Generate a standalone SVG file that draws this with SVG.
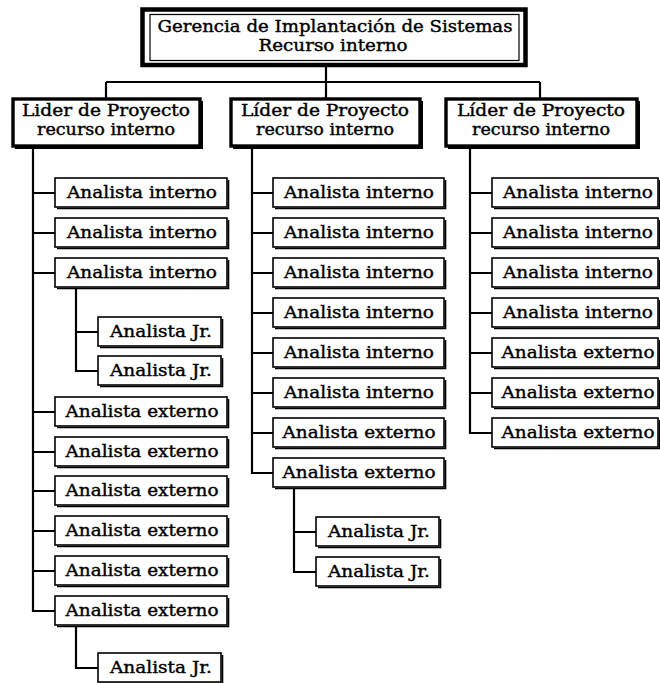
<svg xmlns="http://www.w3.org/2000/svg" width="660" height="683" viewBox="0 0 660 683">
  <style>
    .bg { fill: #fff; }
    .box { fill: #fff; stroke: #000; stroke-width: 1.6; }
    .shade { fill: none; stroke: #000; stroke-width: 1.6; }
    .lead { fill: #fff; stroke: #000; stroke-width: 3.4; }
    .leadshade { fill: none; stroke: #000; stroke-width: 2; }
    .head { fill: #fff; stroke: #000; stroke-width: 4.5; }
    .headin { fill: none; stroke: #000; stroke-width: 1.2; }
    .wire { fill: none; stroke: #000; stroke-width: 2.2; }
    text { font-family: "DejaVu Serif", "Liberation Serif", serif; font-weight: normal; text-anchor: middle; fill: #000; stroke: #000; stroke-width: 0.4; }
    .t { font-size: 16.5px; }
    .tl { font-size: 16px; }
  </style>
  <rect class="bg" x="0" y="0" width="660" height="683"/>

  <!-- connectors -->
  <g id="connectors">
    <path class="wire" d="M326 66 V98 M106 82 H540 M106 82 V98 M540 82 V98"/>
    <!-- left branch -->
    <path class="wire" d="M33 146 V611 H55 M33 193 H55 M33 233 H55 M33 273 H55 M33 412 H55 M33 452 H55 M33 491 H55 M33 531 H55 M33 571 H55"/>
    <path class="wire" d="M76 288 V371 H98 M76 332 H98"/>
    <path class="wire" d="M76 626 V668 H98"/>
    <!-- middle branch -->
    <path class="wire" d="M252 146 V473 H273 M252 193 H273 M252 233 H273 M252 273 H273 M252 313 H273 M252 353 H273 M252 393 H273 M252 433 H273"/>
    <path class="wire" d="M294 488 V572 H316 M294 532 H316"/>
    <!-- right branch -->
    <path class="wire" d="M470 146 V433 H492 M470 193 H492 M470 233 H492 M470 273 H492 M470 313 H492 M470 353 H492 M470 393 H492"/>
  </g>

  <!-- head -->
  <g id="gerencia">
    <rect class="head" x="142.5" y="9.5" width="383" height="55.5"/>
    <rect class="headin" x="150" y="14.5" width="369" height="46"/>
    <text class="tl" x="335" y="32" textLength="355" lengthAdjust="spacingAndGlyphs">Gerencia de Implantación de Sistemas</text>
    <text class="tl" x="333" y="51" textLength="149" lengthAdjust="spacingAndGlyphs">Recurso interno</text>
  </g>

  <!-- project leaders -->
  <g id="lider1">
    <rect class="lead" x="13" y="99" width="187" height="47"/>
    <path class="leadshade" d="M202 101 V148 H15"/>
    <text class="tl" x="106" y="116" textLength="168" lengthAdjust="spacingAndGlyphs">Lider de Proyecto</text>
    <text class="tl" x="106" y="135" textLength="138" lengthAdjust="spacingAndGlyphs">recurso interno</text>
  </g>
  <g id="lider2">
    <rect class="lead" x="231" y="99" width="189" height="47"/>
    <path class="leadshade" d="M422 101 V148 H233"/>
    <text class="tl" x="325" y="116" textLength="168" lengthAdjust="spacingAndGlyphs">Líder de Proyecto</text>
    <text class="tl" x="325" y="135" textLength="138" lengthAdjust="spacingAndGlyphs">recurso interno</text>
  </g>
  <g id="lider3">
    <rect class="lead" x="446" y="99" width="191" height="47"/>
    <path class="leadshade" d="M639 101 V148 H448"/>
    <text class="tl" x="541" y="116" textLength="168" lengthAdjust="spacingAndGlyphs">Líder de Proyecto</text>
    <text class="tl" x="541" y="135" textLength="138" lengthAdjust="spacingAndGlyphs">recurso interno</text>
  </g>

  <!-- left column -->
  <g id="l1"><rect class="box" x="55" y="178" width="172" height="29"/><path class="shade" d="M228.5 180 V208.5 H57"/><text class="t" x="142" y="198" textLength="150" lengthAdjust="spacingAndGlyphs">Analista interno</text></g>
  <g id="l2"><rect class="box" x="55" y="218" width="172" height="29"/><path class="shade" d="M228.5 220 V248.5 H57"/><text class="t" x="142" y="238" textLength="150" lengthAdjust="spacingAndGlyphs">Analista interno</text></g>
  <g id="l3"><rect class="box" x="55" y="258" width="172" height="29"/><path class="shade" d="M228.5 260 V288.5 H57"/><text class="t" x="142" y="278" textLength="150" lengthAdjust="spacingAndGlyphs">Analista interno</text></g>
  <g id="l3a"><rect class="box" x="98" y="317" width="123" height="29"/><path class="shade" d="M222.5 319 V347.5 H100"/><text class="t" x="161" y="337" textLength="102" lengthAdjust="spacingAndGlyphs">Analista Jr.</text></g>
  <g id="l3b"><rect class="box" x="98" y="356" width="123" height="29"/><path class="shade" d="M222.5 358 V386.5 H100"/><text class="t" x="161" y="376" textLength="102" lengthAdjust="spacingAndGlyphs">Analista Jr.</text></g>
  <g id="l4"><rect class="box" x="55" y="397" width="172" height="29"/><path class="shade" d="M228.5 399 V427.5 H57"/><text class="t" x="142" y="417" textLength="153" lengthAdjust="spacingAndGlyphs">Analista externo</text></g>
  <g id="l5"><rect class="box" x="55" y="437" width="172" height="29"/><path class="shade" d="M228.5 439 V467.5 H57"/><text class="t" x="142" y="457" textLength="153" lengthAdjust="spacingAndGlyphs">Analista externo</text></g>
  <g id="l6"><rect class="box" x="55" y="476" width="172" height="29"/><path class="shade" d="M228.5 478 V506.5 H57"/><text class="t" x="142" y="496" textLength="153" lengthAdjust="spacingAndGlyphs">Analista externo</text></g>
  <g id="l7"><rect class="box" x="55" y="516" width="172" height="29"/><path class="shade" d="M228.5 518 V546.5 H57"/><text class="t" x="142" y="536" textLength="153" lengthAdjust="spacingAndGlyphs">Analista externo</text></g>
  <g id="l8"><rect class="box" x="55" y="556" width="172" height="29"/><path class="shade" d="M228.5 558 V586.5 H57"/><text class="t" x="142" y="576" textLength="153" lengthAdjust="spacingAndGlyphs">Analista externo</text></g>
  <g id="l9"><rect class="box" x="55" y="596" width="172" height="29"/><path class="shade" d="M228.5 598 V626.5 H57"/><text class="t" x="142" y="616" textLength="153" lengthAdjust="spacingAndGlyphs">Analista externo</text></g>
  <g id="l9a"><rect class="box" x="98" y="653" width="123" height="29"/><path class="shade" d="M222.5 655 V683.5 H100"/><text class="t" x="161" y="673" textLength="102" lengthAdjust="spacingAndGlyphs">Analista Jr.</text></g>

  <!-- middle column -->
  <g id="m1"><rect class="box" x="273" y="178" width="171" height="29"/><path class="shade" d="M445.5 180 V208.5 H275"/><text class="t" x="359" y="198" textLength="150" lengthAdjust="spacingAndGlyphs">Analista interno</text></g>
  <g id="m2"><rect class="box" x="273" y="218" width="171" height="29"/><path class="shade" d="M445.5 220 V248.5 H275"/><text class="t" x="359" y="238" textLength="150" lengthAdjust="spacingAndGlyphs">Analista interno</text></g>
  <g id="m3"><rect class="box" x="273" y="258" width="171" height="29"/><path class="shade" d="M445.5 260 V288.5 H275"/><text class="t" x="359" y="278" textLength="150" lengthAdjust="spacingAndGlyphs">Analista interno</text></g>
  <g id="m4"><rect class="box" x="273" y="298" width="171" height="29"/><path class="shade" d="M445.5 300 V328.5 H275"/><text class="t" x="359" y="318" textLength="150" lengthAdjust="spacingAndGlyphs">Analista interno</text></g>
  <g id="m5"><rect class="box" x="273" y="338" width="171" height="29"/><path class="shade" d="M445.5 340 V368.5 H275"/><text class="t" x="359" y="358" textLength="150" lengthAdjust="spacingAndGlyphs">Analista interno</text></g>
  <g id="m6"><rect class="box" x="273" y="378" width="171" height="29"/><path class="shade" d="M445.5 380 V408.5 H275"/><text class="t" x="359" y="398" textLength="150" lengthAdjust="spacingAndGlyphs">Analista interno</text></g>
  <g id="m7"><rect class="box" x="273" y="418" width="171" height="29"/><path class="shade" d="M445.5 420 V448.5 H275"/><text class="t" x="359" y="438" textLength="153" lengthAdjust="spacingAndGlyphs">Analista externo</text></g>
  <g id="m8"><rect class="box" x="273" y="458" width="171" height="29"/><path class="shade" d="M445.5 460 V488.5 H275"/><text class="t" x="359" y="478" textLength="153" lengthAdjust="spacingAndGlyphs">Analista externo</text></g>
  <g id="m8a"><rect class="box" x="316" y="517" width="123" height="29"/><path class="shade" d="M440.5 519 V547.5 H318"/><text class="t" x="379" y="537" textLength="102" lengthAdjust="spacingAndGlyphs">Analista Jr.</text></g>
  <g id="m8b"><rect class="box" x="316" y="557" width="123" height="29"/><path class="shade" d="M440.5 559 V587.5 H318"/><text class="t" x="379" y="577" textLength="102" lengthAdjust="spacingAndGlyphs">Analista Jr.</text></g>

  <!-- right column -->
  <g id="r1"><rect class="box" x="492" y="178" width="166" height="29"/><path class="shade" d="M659.5 180 V208.5 H494"/><text class="t" x="578" y="198" textLength="150" lengthAdjust="spacingAndGlyphs">Analista interno</text></g>
  <g id="r2"><rect class="box" x="492" y="218" width="166" height="29"/><path class="shade" d="M659.5 220 V248.5 H494"/><text class="t" x="578" y="238" textLength="150" lengthAdjust="spacingAndGlyphs">Analista interno</text></g>
  <g id="r3"><rect class="box" x="492" y="258" width="166" height="29"/><path class="shade" d="M659.5 260 V288.5 H494"/><text class="t" x="578" y="278" textLength="150" lengthAdjust="spacingAndGlyphs">Analista interno</text></g>
  <g id="r4"><rect class="box" x="492" y="298" width="166" height="29"/><path class="shade" d="M659.5 300 V328.5 H494"/><text class="t" x="578" y="318" textLength="150" lengthAdjust="spacingAndGlyphs">Analista interno</text></g>
  <g id="r5"><rect class="box" x="492" y="338" width="166" height="29"/><path class="shade" d="M659.5 340 V368.5 H494"/><text class="t" x="578" y="358" textLength="153" lengthAdjust="spacingAndGlyphs">Analista externo</text></g>
  <g id="r6"><rect class="box" x="492" y="378" width="166" height="29"/><path class="shade" d="M659.5 380 V408.5 H494"/><text class="t" x="578" y="398" textLength="153" lengthAdjust="spacingAndGlyphs">Analista externo</text></g>
  <g id="r7"><rect class="box" x="492" y="418" width="166" height="29"/><path class="shade" d="M659.5 420 V448.5 H494"/><text class="t" x="578" y="438" textLength="153" lengthAdjust="spacingAndGlyphs">Analista externo</text></g>
</svg>
